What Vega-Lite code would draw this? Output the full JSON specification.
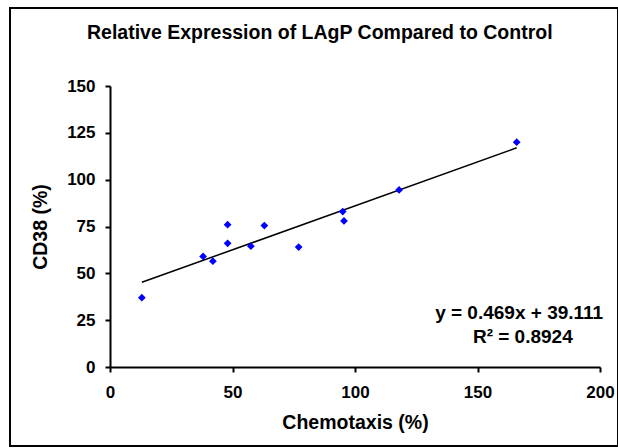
{
  "$schema": "https://vega.github.io/schema/vega-lite/v6.json",
  "width": 608,
  "height": 438,
  "autosize": {"type": "none"},
  "padding": {"left": 10, "top": 8, "right": 0, "bottom": 2},
  "background": "white",
  "title": {
    "text": "Relative Expression of LAgP Compared to Control",
    "anchor": "start",
    "frame": "group",
    "dx": 77,
    "offset": -50,
    "baseline": "alphabetic",
    "font": "Liberation Sans",
    "fontSize": 19.5,
    "fontWeight": "bold",
    "color": "black"
  },
  "config": {
    "view": {"stroke": "black", "strokeWidth": 2},
    "axis": {
      "grid": false,
      "labelFlush": false,
      "domainColor": "black",
      "domainWidth": 2,
      "tickColor": "black",
      "tickWidth": 2,
      "tickSize": 5,
      "labelFont": "Liberation Sans",
      "labelFontSize": 17,
      "labelFontWeight": "bold",
      "labelColor": "black",
      "titleFont": "Liberation Sans",
      "titleFontSize": 19.5,
      "titleFontWeight": "bold",
      "titleColor": "black"
    }
  },
  "encoding": {
    "x": {
      "field": "x",
      "type": "quantitative",
      "scale": {"domain": [0, 200], "range": [100, 590], "nice": false, "zero": false},
      "axis": {"title": "Chemotaxis (%)", "values": [0, 50, 100, 150, 200], "offset": -79, "labelPadding": 12, "titlePadding": 13}
    },
    "y": {
      "field": "y",
      "type": "quantitative",
      "scale": {"domain": [0, 150], "range": [359, 78], "nice": false, "zero": false},
      "axis": {"title": "CD38 (%)", "values": [0, 25, 50, 75, 100, 125, 150], "offset": -100, "labelPadding": 10, "titlePadding": 16}
    }
  },
  "layer": [
    {
      "data": {"values": [
        {"x": 13, "y": 45.2},
        {"x": 166, "y": 117.0}
      ]},
      "mark": {"type": "line", "color": "black", "strokeWidth": 1.5},
      "encoding": {}
    },
    {
      "data": {"values": [
        {"x": 13, "y": 37},
        {"x": 38, "y": 59},
        {"x": 42, "y": 56.5},
        {"x": 48, "y": 76},
        {"x": 48, "y": 66},
        {"x": 57.5, "y": 64.5},
        {"x": 63, "y": 75.5},
        {"x": 77, "y": 64},
        {"x": 95, "y": 83},
        {"x": 95.5, "y": 78},
        {"x": 118, "y": 94.5},
        {"x": 166, "y": 120}
      ]},
      "mark": {"type": "point", "shape": "diamond", "filled": true, "color": "#0000FF", "opacity": 1, "size": 60},
      "encoding": {}
    },
    {
      "data": {"values": [
        {"x": 167, "y": 29, "label": "y = 0.469x + 39.111"},
        {"x": 168.5, "y": 16, "label": "R² = 0.8924"}
      ]},
      "mark": {"type": "text", "font": "Liberation Sans", "fontSize": 19, "fontWeight": "bold", "color": "black", "align": "center", "baseline": "middle"},
      "encoding": {"text": {"field": "label"}}
    }
  ]
}
